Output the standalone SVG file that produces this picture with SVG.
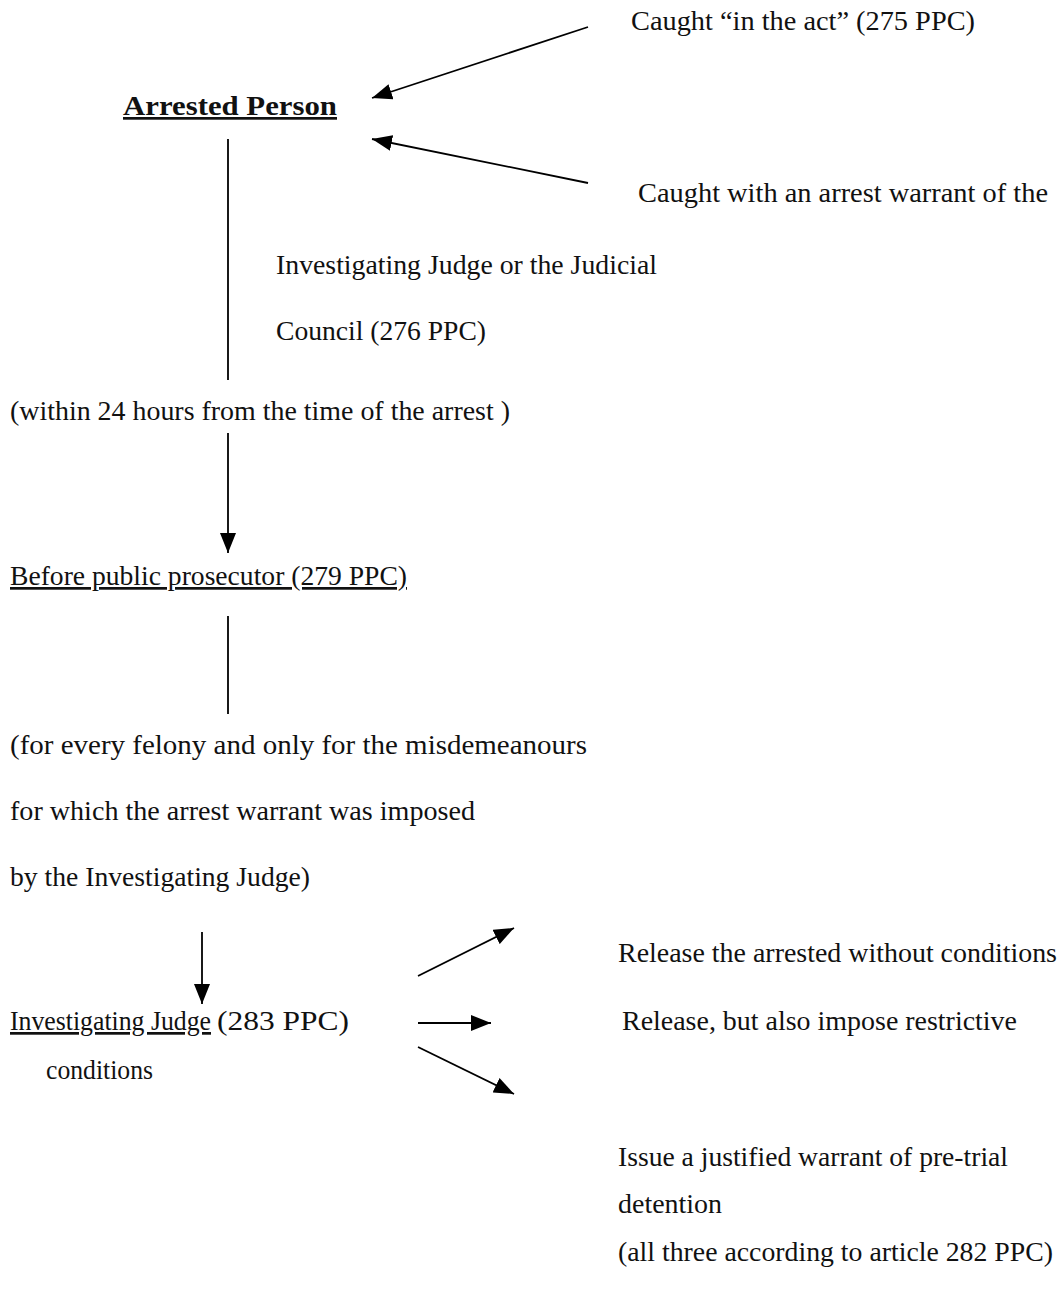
<svg xmlns="http://www.w3.org/2000/svg" width="1061" height="1311" viewBox="0 0 1061 1311">
<style>
text{font-family:"Liberation Serif","DejaVu Serif",serif;font-size:27px;fill:#111}
.b{font-weight:bold}
.u{text-decoration:underline}
.c line{stroke:#000;stroke-width:1.8;fill:none}
.a{marker-end:url(#ah)}
</style>
<defs>
<marker id="ah" viewBox="0 0 20 16" refX="20" refY="8" markerWidth="20" markerHeight="16" markerUnits="userSpaceOnUse" orient="auto">
<path d="M0,0 L20,8 L0,16 z" fill="#000"/>
</marker>
</defs>
<rect width="1061" height="1311" fill="#fff"/>
<g id="caught-act"><text x="631" y="30" textLength="344" lengthAdjust="spacingAndGlyphs">Caught “in the act” (275 PPC)</text></g>
<g id="arrested-person"><text class="b u" x="123" y="115" textLength="214" lengthAdjust="spacingAndGlyphs">Arrested Person</text></g>
<g id="caught-warrant">
<text x="638" y="202" textLength="410" lengthAdjust="spacingAndGlyphs">Caught with an arrest warrant of the</text>
<text x="276" y="274" textLength="381" lengthAdjust="spacingAndGlyphs">Investigating Judge or the Judicial</text>
<text x="276" y="340" textLength="210" lengthAdjust="spacingAndGlyphs">Council (276 PPC)</text>
</g>
<g id="within-24"><text x="10" y="420" textLength="500" lengthAdjust="spacingAndGlyphs">(within 24 hours from the time of the arrest )</text></g>
<g id="prosecutor"><text class="u" x="10" y="585" textLength="397" lengthAdjust="spacingAndGlyphs">Before public prosecutor (279 PPC)</text></g>
<g id="felony">
<text x="10" y="754" textLength="577" lengthAdjust="spacingAndGlyphs">(for every felony and only for the misdemeanours</text>
<text x="10" y="820" textLength="465" lengthAdjust="spacingAndGlyphs">for which the arrest warrant was imposed</text>
<text x="10" y="886" textLength="300" lengthAdjust="spacingAndGlyphs">by the Investigating Judge)</text>
</g>
<g id="investigating-judge">
<text class="u" x="10" y="1030" textLength="201" lengthAdjust="spacingAndGlyphs">Investigating Judge</text>
<text x="217" y="1030" textLength="132" lengthAdjust="spacingAndGlyphs">(283 PPC)</text>
<text x="46" y="1079" textLength="107" lengthAdjust="spacingAndGlyphs">conditions</text>
</g>
<g id="release-free"><text x="618" y="962" textLength="439" lengthAdjust="spacingAndGlyphs">Release the arrested without conditions</text></g>
<g id="release-restrict"><text x="622" y="1030" textLength="395" lengthAdjust="spacingAndGlyphs">Release, but also impose restrictive</text></g>
<g id="detention">
<text x="618" y="1166" textLength="390" lengthAdjust="spacingAndGlyphs">Issue a justified warrant of pre-trial</text>
<text x="618" y="1213" textLength="104" lengthAdjust="spacingAndGlyphs">detention</text>
</g>
<g id="note-282"><text x="618" y="1261" textLength="435" lengthAdjust="spacingAndGlyphs">(all three according to article 282 PPC)</text></g>
<g id="connectors" class="c">
<line class="a" x1="588" y1="27" x2="372" y2="98"/>
<line class="a" x1="588" y1="183" x2="372" y2="139"/>
<line x1="228" y1="139" x2="228" y2="380"/>
<line class="a" x1="228" y1="433" x2="228" y2="553"/>
<line x1="228" y1="616" x2="228" y2="714"/>
<line class="a" x1="202" y1="932" x2="202" y2="1004"/>
<line class="a" x1="418" y1="976" x2="514" y2="928"/>
<line class="a" x1="418" y1="1023" x2="491" y2="1023"/>
<line class="a" x1="418" y1="1047" x2="514" y2="1094"/>
</g>
</svg>
